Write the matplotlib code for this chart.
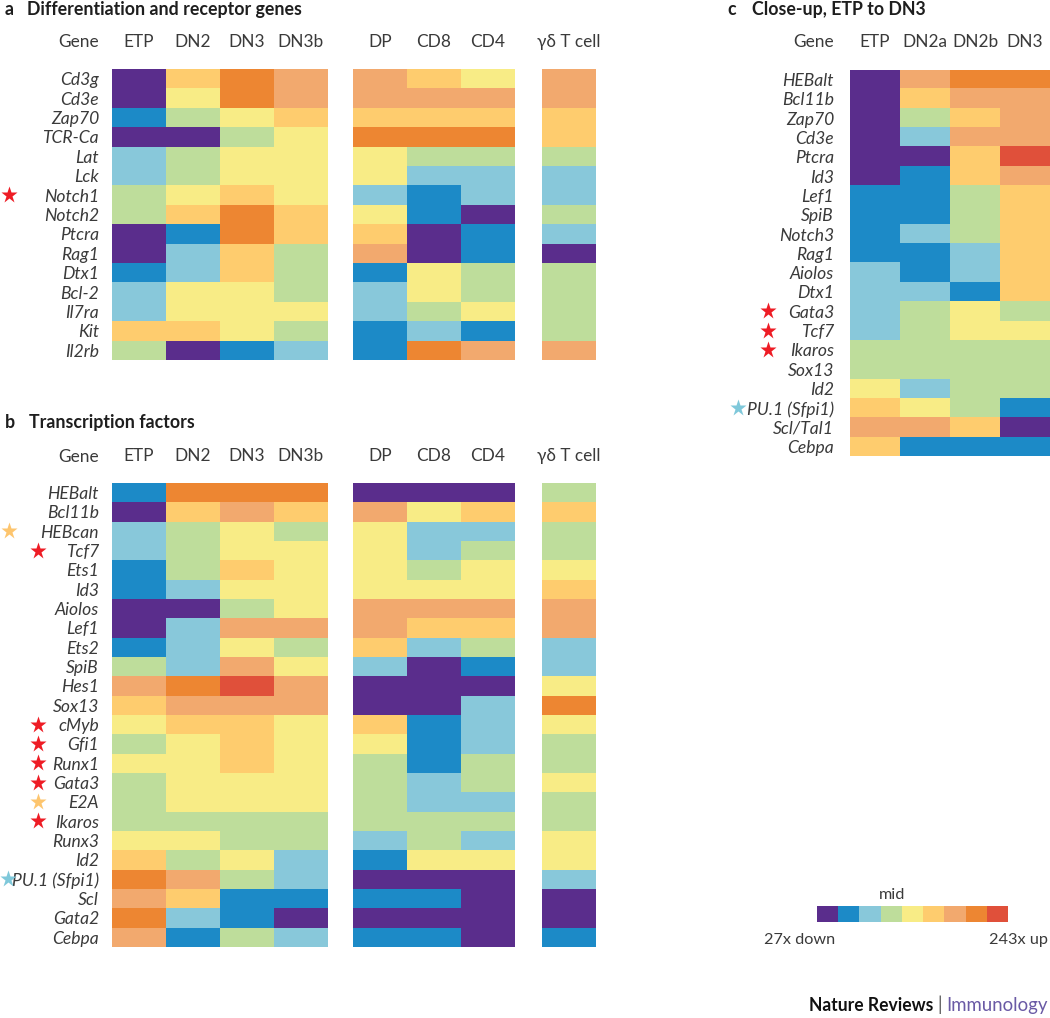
import numpy as np
import matplotlib
matplotlib.use("Agg")
import matplotlib.pyplot as plt
from matplotlib.colors import ListedColormap, BoundaryNorm

# ---------------- data (expression level codes 0..8; 4 = mid) ----------------
level_colors = ["#5A2D8C", "#1C8AC7", "#88C8DA", "#BEDD9B", "#F8EC86",
                "#FECC6E", "#F2A96E", "#ED8632", "#E0503A"]

cols_early = ["ETP", "DN2", "DN3", "DN3b"]
cols_late = ["DP", "CD8", "CD4"]
cols_gd = ["γδ T cell"]
cols_c = ["ETP", "DN2a", "DN2b", "DN3"]

genes_a = ["Cd3g", "Cd3e", "Zap70", "TCR-Ca", "Lat", "Lck", "Notch1", "Notch2",
           "Ptcra", "Rag1", "Dtx1", "Bcl-2", "Il7ra", "Kit", "Il2rb"]
a_early = [[0, 5, 7, 6], [0, 4, 7, 6], [1, 3, 4, 5], [0, 0, 3, 4], [2, 3, 4, 4],
           [2, 3, 4, 4], [3, 4, 5, 4], [3, 5, 7, 5], [0, 1, 7, 5], [0, 2, 5, 3],
           [1, 2, 5, 3], [2, 4, 4, 3], [2, 4, 4, 4], [5, 5, 4, 3], [3, 0, 1, 2]]
a_late = [[6, 5, 4], [6, 6, 6], [5, 5, 5], [7, 7, 7], [4, 3, 3], [4, 2, 2],
          [2, 1, 2], [4, 1, 0], [5, 0, 1], [6, 0, 1], [1, 4, 3], [2, 4, 3],
          [2, 3, 4], [1, 2, 1], [1, 7, 6]]
a_gd = [6, 6, 5, 5, 3, 2, 2, 3, 2, 0, 3, 3, 3, 3, 6]

genes_b = ["HEBalt", "Bcl11b", "HEBcan", "Tcf7", "Ets1", "Id3", "Aiolos", "Lef1",
           "Ets2", "SpiB", "Hes1", "Sox13", "cMyb", "Gfi1", "Runx1", "Gata3",
           "E2A", "Ikaros", "Runx3", "Id2", "PU.1 (Sfpi1)", "Scl", "Gata2", "Cebpa"]
b_early = [[1, 7, 7, 7], [0, 5, 6, 5], [2, 3, 4, 3], [2, 3, 4, 4], [1, 3, 5, 4],
           [1, 2, 4, 4], [0, 0, 3, 4], [0, 2, 6, 6], [1, 2, 4, 3], [3, 2, 6, 4],
           [6, 7, 8, 6], [5, 6, 6, 6], [4, 5, 5, 4], [3, 4, 5, 4], [4, 4, 5, 4],
           [3, 4, 4, 4], [3, 4, 4, 4], [3, 3, 3, 3], [4, 4, 3, 3], [5, 3, 4, 2],
           [7, 6, 3, 2], [6, 5, 1, 1], [7, 2, 1, 0], [6, 1, 3, 2]]
b_late = [[0, 0, 0], [6, 4, 5], [4, 2, 2], [4, 2, 3], [4, 3, 4], [4, 4, 4],
          [6, 6, 6], [6, 5, 5], [5, 2, 3], [2, 0, 1], [0, 0, 0], [0, 0, 2],
          [5, 1, 2], [4, 1, 2], [3, 1, 3], [3, 2, 3], [3, 2, 2], [3, 3, 3],
          [2, 3, 2], [1, 4, 4], [0, 0, 0], [1, 1, 0], [0, 0, 0], [1, 1, 0]]
b_gd = [3, 5, 3, 3, 4, 5, 6, 6, 2, 2, 4, 7, 4, 3, 3, 4, 3, 3, 4, 4, 2, 0, 0, 1]

genes_c = ["HEBalt", "Bcl11b", "Zap70", "Cd3e", "Ptcra", "Id3", "Lef1", "SpiB",
           "Notch3", "Rag1", "Aiolos", "Dtx1", "Gata3", "Tcf7", "Ikaros", "Sox13",
           "Id2", "PU.1 (Sfpi1)", "Scl/Tal1", "Cebpa"]
c_vals = [[0, 6, 7, 7], [0, 5, 6, 6], [0, 3, 5, 6], [0, 2, 6, 6], [0, 0, 5, 8],
          [0, 1, 5, 6], [1, 1, 3, 5], [1, 1, 3, 5], [1, 2, 3, 5], [1, 1, 2, 5],
          [2, 1, 2, 5], [2, 2, 1, 5], [2, 3, 4, 3], [2, 3, 4, 4], [3, 3, 3, 3],
          [3, 3, 3, 3], [4, 2, 3, 3], [5, 4, 3, 1], [6, 6, 5, 0], [5, 1, 1, 1]]

stars_a = {"Notch1": "red"}
stars_b = {"HEBcan": "orange", "Tcf7": "red", "cMyb": "red", "Gfi1": "red",
           "Runx1": "red", "Gata3": "red", "E2A": "orange", "Ikaros": "red",
           "PU.1 (Sfpi1)": "blue"}
stars_c = {"Gata3": "red", "Tcf7": "red", "Ikaros": "red", "PU.1 (Sfpi1)": "blue"}

legend_labels = ["27x down", "mid", "243x up"]

# ---------------- styling ----------------
W, H = 1050, 1018
plt.rcParams["font.family"] = ["Lato", "DejaVu Sans"]
TXT = "#3a3a3a"
TITLE = "#1e1e1e"
star_colors = {"red": "#EE1C25", "orange": "#FDC56E", "blue": "#7FC8DA"}
cmap = ListedColormap(level_colors)
norm = BoundaryNorm(np.arange(-0.5, 9.5, 1), cmap.N)
PX2PT = 72.0 / 100.0

fig = plt.figure(figsize=(W / 100, H / 100), dpi=100)
renderer = fig.canvas.get_renderer()


def fit(samples, how=min, **kw):
    sizes = []
    for text, target in samples.items():
        t = fig.text(0, 0, text, fontsize=10, **kw)
        w = t.get_window_extent(renderer).width
        t.remove()
        sizes.append(10.0 * target / w)
    return how(sizes)


FS_TITLE = fit({"Differentiation and receptor genes": 283,
                "Transcription factors": 166,
                "Close-up, ETP to DN3": 173}, fontweight="bold")
FS_HEAD = fit({"Gene": 43, "DN2a": 43, "DN2b": 45, "DN3": 35, "γδ T cell": 64},
              how=np.mean)
FS_ROW = fit({"Cd3g": 37, "Notch3": 60, "HEBalt": 53.7, "PU.1 (Sfpi1)": 79},
             how=np.mean, style="italic")
FS_LEG = fit({"243x up": 59})
FS_FOOT_B = fit({"Nature Reviews": 125}, fontweight="bold")
FS_FOOT = fit({"Immunology": 101})


def px_axes(x0, y0, x1, y1):
    return fig.add_axes([x0 / W, 1 - y1 / H, (x1 - x0) / W, (y1 - y0) / H])


def block(x0, y0, colw, rowh, data, cols, genes=None, ypad=13, xpad=22):
    data = np.array(data)
    if data.ndim == 1:
        data = data[:, None]
    nr, nc = data.shape
    ax = px_axes(x0, y0, x0 + nc * colw, y0 + nr * rowh)
    ax.imshow(data, cmap=cmap, norm=norm, aspect="auto", interpolation="nearest")
    ax.set_xticks(range(nc))
    ax.set_xticklabels(cols, fontsize=FS_HEAD, color=TXT)
    ax.xaxis.tick_top()
    ax.tick_params(axis="x", length=0, pad=xpad * PX2PT)
    for t in ax.get_xticklabels():
        t.set_va("baseline")
    if genes is not None:
        ax.set_yticks(range(nr))
        ax.set_yticklabels(genes, fontsize=FS_ROW, style="italic", color=TXT)
        ax.tick_params(axis="y", length=0, pad=ypad * PX2PT)
        for t in ax.get_yticklabels():
            t.set_va("center_baseline")
    else:
        ax.set_yticks([])
    for s in ax.spines.values():
        s.set_visible(False)
    return ax


CW = 53.8
# panel a
RA = 19.4
ax_a = block(112, 69, CW, RA, a_early, cols_early, genes_a)
block(353, 69, CW, RA, a_late, cols_late)
block(541.5, 69, CW, RA, a_gd, cols_gd)
# panel b
RB = 19.33
ax_b = block(112, 483, CW, RB, b_early, cols_early, genes_b)
block(353, 483, CW, RB, b_late, cols_late)
block(541.5, 483, CW, RB, b_gd, cols_gd)
# panel c
RC = 19.3
ax_c = block(850, 70, 50, RC, c_vals, cols_c, genes_c, ypad=16, xpad=23)

# legend bar
lax = px_axes(816.7, 906, 1007.7, 921.7)
lax.imshow(np.arange(len(level_colors))[None, :], cmap=cmap, norm=norm,
           aspect="auto", interpolation="nearest")
lax.set_axis_off()

# overlay for titles, stars and free text
ov = fig.add_axes([0, 0, 1, 1])
ov.set_xlim(0, W)
ov.set_ylim(H, 0)
ov.set_axis_off()
ov.patch.set_alpha(0)

tkw = dict(fontsize=FS_TITLE, fontweight="bold", color=TITLE, va="baseline")
ov.text(5, 15, "a", **tkw)
ov.text(27, 15, "Differentiation and receptor genes", **tkw)
ov.text(5, 428, "b", **tkw)
ov.text(29, 428, "Transcription factors", **tkw)
ov.text(727, 15, "c", **tkw)
ov.text(752, 15, "Close-up, ETP to DN3", **tkw)

gkw = dict(fontsize=FS_HEAD, color=TXT, va="baseline", ha="right")
ov.text(99, 47, "Gene", **gkw)
ov.text(99, 461.5, "Gene", **gkw)
ov.text(834, 47, "Gene", **gkw)

fig.canvas.draw()


def label_left(ax, gene):
    for t in ax.get_yticklabels():
        if t.get_text() == gene:
            return t.get_window_extent(renderer).x0
    return W


def draw_stars(ax, genes, stars, y0, rowh, xpos):
    for g, c in stars.items():
        i = genes.index(g)
        x = xpos[g] if isinstance(xpos, dict) else xpos
        x = max(7.5, min(x, label_left(ax, g) - 9))
        ov.plot(x, y0 + (i + 0.5) * rowh, marker="*", ms=12.5,
                color=star_colors[c], mec="none", clip_on=False, zorder=0)


draw_stars(ax_a, genes_a, stars_a, 69, RA, 9)
xb = {g: 38 for g in stars_b}
xb["HEBcan"] = 9
xb["PU.1 (Sfpi1)"] = 8
draw_stars(ax_b, genes_b, stars_b, 483, RB, xb)
xc = {g: 768 for g in stars_c}
xc["PU.1 (Sfpi1)"] = 740
draw_stars(ax_c, genes_c, stars_c, 70, RC, xc)

# legend text
ov.text(835, 944, legend_labels[0], fontsize=FS_LEG, color=TXT, ha="right", va="baseline")
ov.text(891.7, 899, legend_labels[1], fontsize=FS_LEG, color=TXT, ha="center", va="baseline")
ov.text(1048, 944, legend_labels[2], fontsize=FS_LEG, color=TXT, ha="right", va="baseline")

# footer
ov.text(933, 1011, "Nature Reviews", fontsize=FS_FOOT_B, fontweight="bold", color="#111111",
        ha="right", va="baseline")
ov.text(939.5, 1011, "|", fontsize=FS_FOOT, color="#555555", ha="center", va="baseline")
ov.text(1048, 1011, "Immunology", fontsize=FS_FOOT, color="#6A5AA5", ha="right", va="baseline")

fig.savefig("out.png", dpi=100)
